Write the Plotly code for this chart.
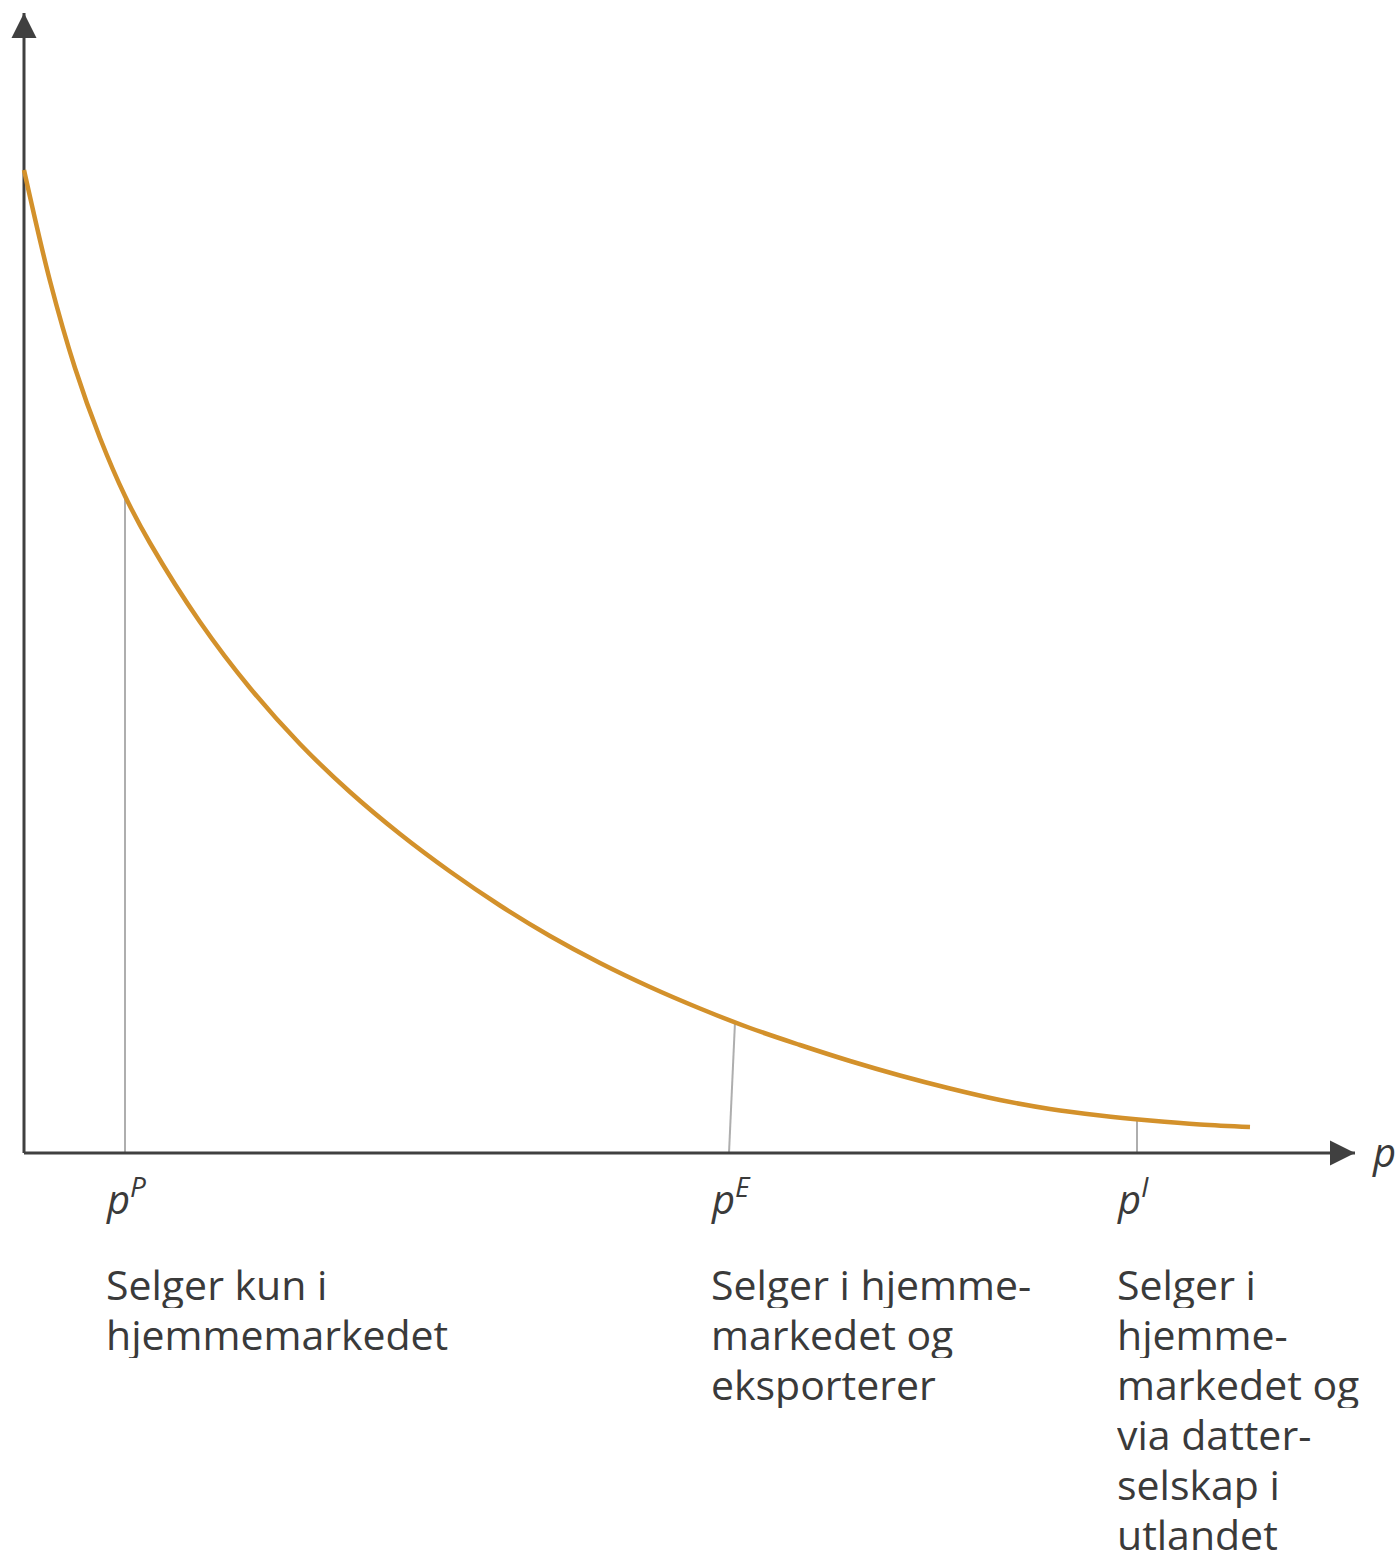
import plotly.graph_objects as go

# ---- data (arbitrary units) ----
curve_x = [0.00, 0.26, 0.51, 0.76, 1.01, 1.26, 1.76, 2.26, 2.76, 3.26, 3.76, 4.26,
           4.76, 5.26, 5.76, 6.26, 6.76, 7.26, 7.76, 8.26, 8.76, 9.26, 9.76, 10.26,
           10.76, 11.26, 11.76, 12.26]
curve_y = [9.83, 8.72, 7.85, 7.15, 6.57, 6.10, 5.31, 4.65, 4.09, 3.61, 3.19, 2.815,
           2.475, 2.17, 1.90, 1.66, 1.445, 1.25, 1.08, 0.92, 0.775, 0.645, 0.53, 0.44,
           0.375, 0.325, 0.285, 0.26]

threshold_names = ["P", "E", "I"]
threshold_base_x = [1.01, 7.05, 11.13]
threshold_top_x = [1.01, 7.11, 11.13]
threshold_top_y = [6.56, 1.31, 0.34]

label_x = [0.80, 6.85, 10.91]
label_lines = [
    ["Selger kun i", "hjemmemarkedet"],
    ["Selger i hjemme-", "markedet og", "eksporterer"],
    ["Selger i", "hjemme-", "markedet og", "via datter-", "selskap i", "utlandet"],
]

x_axis_end = 13.31
y_axis_end = 11.40

# ---- styles ----
CURVE = "#D3912B"
AXIS = "#404040"
GUIDE = "#AEAEAE"
TEXT = "#3A3A3A"
FONT = "Open Sans"

fig = go.Figure()

# guide lines from the axis up to the curve
for bx, tx, ty in zip(threshold_base_x, threshold_top_x, threshold_top_y):
    fig.add_trace(go.Scatter(x=[bx, tx], y=[0, ty], mode="lines",
                             line=dict(color=GUIDE, width=2),
                             hoverinfo="skip", showlegend=False))

# axes
fig.add_trace(go.Scatter(x=[0, x_axis_end], y=[0, 0], mode="lines",
                         line=dict(color=AXIS, width=3), hoverinfo="skip", showlegend=False))
fig.add_trace(go.Scatter(x=[0, 0], y=[0, y_axis_end], mode="lines",
                         line=dict(color=AXIS, width=3), hoverinfo="skip", showlegend=False))
# arrow heads
fig.add_trace(go.Scatter(x=[x_axis_end], y=[0], mode="markers",
                         marker=dict(symbol="arrow-right", size=25, color=AXIS,
                                     line=dict(width=0)),
                         hoverinfo="skip", showlegend=False))
fig.add_trace(go.Scatter(x=[0], y=[y_axis_end], mode="markers",
                         marker=dict(symbol="arrow-up", size=25, color=AXIS,
                                     line=dict(width=0)),
                         hoverinfo="skip", showlegend=False))

# the curve
fig.add_trace(go.Scatter(x=curve_x, y=curve_y, mode="lines",
                         line=dict(color=CURVE, width=4.5, shape="spline", smoothing=1.0),
                         showlegend=False))

annotations = []
# axis label
annotations.append(dict(x=13.46, y=0.02, xref="x", yref="y", text="<i>p</i>",
                        showarrow=False, xanchor="left", yanchor="middle",
                        font=dict(family=FONT, size=40, color=TEXT)))

# threshold labels
for name, lx in zip(threshold_names, label_x):
    annotations.append(dict(x=lx, y=-0.43, xref="x", yref="y",
                            text=f"<i>p</i><sup><i>{name}</i></sup>",
                            showarrow=False, xanchor="left", yanchor="middle",
                            font=dict(family=FONT, size=40, color=TEXT)))

# descriptive text, one annotation per line
for lx, lines in zip(label_x, label_lines):
    for i, line in enumerate(lines):
        annotations.append(dict(x=lx, y=-1.31 - 0.5 * i, xref="x", yref="y",
                                text=line, showarrow=False, height=48,
                                xanchor="left", yanchor="middle",
                                font=dict(family=FONT, size=41, color=TEXT)))

fig.update_layout(
    width=1396, height=1550,
    margin=dict(l=0, r=0, t=0, b=0),
    paper_bgcolor="white", plot_bgcolor="white",
    xaxis=dict(range=[-0.24, 13.72], visible=False, fixedrange=True),
    yaxis=dict(range=[-3.97, 11.53], visible=False, fixedrange=True),
    annotations=annotations,
    showlegend=False,
)

fig.write_html("out.html",
               config={"displayModeBar": False},
               post_script="document.body.style.margin='0';document.body.style.overflow='hidden';")
